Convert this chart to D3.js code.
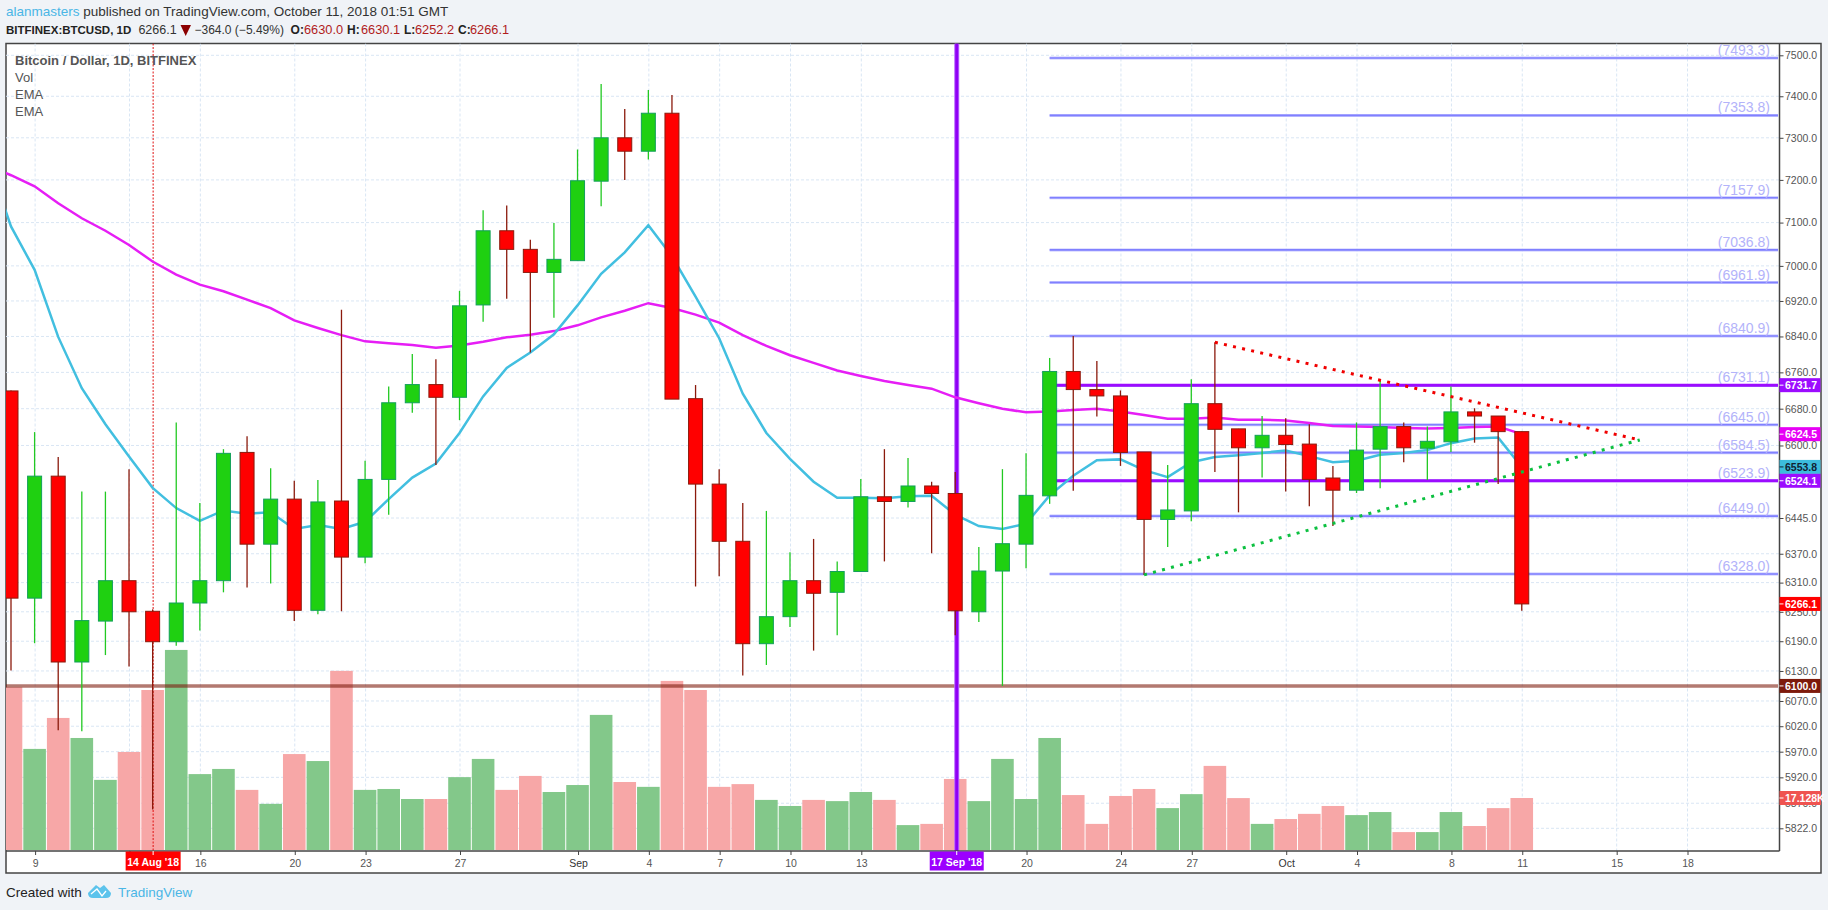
<!doctype html>
<html>
<head>
<meta charset="utf-8">
<title>BTCUSD</title>
<script src="https://cdn.jsdelivr.net/npm/d3@7"></script>
<style>
    html, body { margin: 0; background: #f0f3f7; }
    svg { display: block; }
    text { font-family: "Liberation Sans", Arial, sans-serif; }
    .grid line { stroke: #d9e6f4; stroke-width: 1; stroke-dasharray: 3,2; }
    .axis text { font-size: 10.5px; fill: #555; font-family: "Liberation Sans", Arial, sans-serif; }
    .axis line { stroke: #444; }
    .axis path { display: none; }
</style>
</head>
<body>
<svg id="chart" width="1828" height="910"></svg>
<script>
// daily candles, 8 Aug .. 11 Oct 2018
var firstDay = new Date(Date.UTC(2018, 7, 8));
var days = d3.utcDays(firstDay, new Date(Date.UTC(2018, 9, 12)));

var opens = [6719,6278,6534,6148,6231,6314,6251,6189,6268,6314,6585,6390,6485,6253,6481,6363,6527,6693,6733,6705,
    6911,7081,7038,6985,7012,7197,7300,7268,7359,6702,6517,6396,6185,6240,6314,6290,6333,6490,6480,6513,
    6497,6250,6334,6390,6492,6762,6722,6708,6586,6442,6460,6691,6636,6595,6622,6603,6530,6504,6592,6641,
    6594,6608,6673,6664,6630.0];
var highs = [6720,6629,6575,6501,6501,6549,6255,6650,6477,6592,6620,6551,6524,6526,6900,6567,6729,6801,6789,6943,
    7129,7140,7060,7099,7272,7430,7369,7415,7403,6732,6549,6477,6460,6373,6401,6354,6528,6592,6573,6522,
    6543,6384,6549,6583,6792,6841,6785,6720,6586,6558,6745,6827,6636,6664,6659,6646,6556,6650,6741,6650,
    6641,6729,6681,6664,6630.1];
var lows = [6131,6186,6012,6010,6162,6139,5858,6181,6212,6290,6300,6308,6231,6245,6251,6350,6452,6671,6558,6655,
    6873,6925,6804,6882,7012,7138,7200,7248,6701,6302,6323,6121,6142,6219,6171,6202,6332,6354,6467,6371,
    6202,6229,6100,6340,6475,6503,6663,6556,6326,6384,6438,6543,6457,6531,6501,6470,6428,6498,6508,6564,
    6526,6586,6606,6517,6252.2];
var closes = [6278,6534,6148,6232,6314,6250,6189,6268,6314,6583,6390,6485,6253,6479,6363,6527,6693,6733,6705,6909,
    7081,7038,6985,7015,7198,7300,7268,7359,6701,6517,6396,6185,6240,6314,6288,6333,6490,6480,6513,6497,
    6252,6334,6391,6493,6762,6722,6708,6585,6442,6462,6691,6635,6595,6622,6602,6527,6504,6590,6641,6595,
    6609,6673,6664,6630,6266.1];
// volume in thousands
var volumes = [53.6,33.3,43.5,36.9,23.1,32.3,52.7,65.9,25.0,26.7,19.8,15.2,31.6,29.3,59.0,19.8,20.1,16.8,16.8,24.0,
    30.0,19.8,24.4,19.1,21.4,44.5,22.4,20.8,55.7,52.7,20.8,21.7,16.5,14.5,16.5,16.1,19.1,16.5,8.2,8.6,
    23.4,16.1,30.0,16.8,36.9,18.1,8.6,17.8,20.1,13.8,18.4,27.7,17.1,8.6,10.2,11.9,14.5,11.5,12.5,5.9,
    5.9,12.5,7.9,13.8,17.128];
// the two EMA series start one day earlier, off the left edge
var emaFast = [7254,7091,6991,6839,6725,6646,6576,6509,6466,6439,6461,6454,6457,6422,6430,6422,6437,6485,6531,6561,6627,
    6707,6770,6804,6845,6910,6982,7031,7094,7022,6930,6836,6713,6627,6571,6522,6488,6488,6487,6491,6492,
    6452,6428,6422,6433,6493,6535,6568,6570,6547,6532,6564,6575,6579,6584,6589,6577,6564,6567,6580,6584,
    6590,6605,6615,6617,6553.8];
var emaSlow = [7234,7211,7185,7145,7110,7081,7048,7010,6980,6957,6942,6923,6904,6876,6859,6843,6829,6825,6821,6815,6820,
    6828,6838,6844,6852,6865,6883,6898,6915,6904,6889,6871,6843,6819,6798,6781,6764,6752,6741,6732,6724,
    6705,6692,6680,6672,6674,6677,6680,6674,6666,6658,6658,6661,6656,6656,6654,6649,6642,6641,6640,6638,
    6637,6638,6640,6641,6624.5];

var fibLevels = [7493.3,7353.8,7157.9,7036.8,6961.9,6840.9,6731.1,6645.0,6584.5,6523.9,6449.0,6328.0];
var purpleLevels = [6731.7,6524.1];
var supportLevel = 6100.0;

var priceTicks = [7500,7400,7300,7200,7100,7000,6920,6840,6760,6680,6600,6445,6370,6310,6250,6190,6130,6070,6020,5970,5920,5870,5822];
var dateTicks = ["2018-08-09","2018-08-13","2018-08-16","2018-08-20","2018-08-23","2018-08-27","2018-09-01","2018-09-04",
    "2018-09-07","2018-09-10","2018-09-13","2018-09-17","2018-09-20","2018-09-24","2018-09-27","2018-10-01","2018-10-04",
    "2018-10-08","2018-10-11","2018-10-15","2018-10-18"];
var dateTickLabels = ["9","","16","20","23","27","Sep","4","7","10","13","","20","24","27","Oct","4","8","11","15","18"];

var trendDown = [["2018-09-28",6827],["2018-10-16",6612]];
var trendUp = [["2018-09-25",6326],["2018-10-16",6612]];

var priceLabels = [
    {v: 6731.7, t: "6731.7", bg: "#9c0cff", fg: "#fff"},
    {v: 6624.5, t: "6624.5", bg: "#e600f5", fg: "#fff"},
    {v: 6553.8, t: "6553.8", bg: "#3cbcdc", fg: "#123"},
    {v: 6524.1, t: "6524.1", bg: "#9c0cff", fg: "#fff"},
    {v: 6266.1, t: "6266.1", bg: "#ff0000", fg: "#fff"},
    {v: 6100.0, t: "6100.0", bg: "#7d1a0b", fg: "#fff"}
];

var left = 6, top_ = 43.5, right = 1779.5, bottom = 851, frameRight = 1821, frameBottom = 873;

var x = d3.scaleUtc()
    .domain([firstDay, new Date(Date.UTC(2018, 9, 18))])
    .range([11, 1687]);
var y = d3.scaleLog().domain([5822, 7500]).range([828.3, 55.3]);
var yVol = d3.scaleLinear().domain([0, 17.128]).range([850, 798]);

var candles = days.map(function(d, i) {
    return {date: d, o: opens[i], h: highs[i], l: lows[i], c: closes[i], v: volumes[i], up: closes[i] >= opens[i]};
});
var parseDay = d3.utcParse("%Y-%m-%d");

var svg = d3.select("#chart");
svg.append("defs").append("clipPath").attr("id", "plot")
    .append("rect").attr("x", left).attr("y", top_).attr("width", right - left).attr("height", bottom - top_);

// frame
svg.append("rect").attr("x", left).attr("y", top_).attr("width", frameRight - left).attr("height", frameBottom - top_)
    .attr("fill", "#fff").attr("stroke", "#444").attr("stroke-width", 1.5);

var plot = svg.append("g").attr("clip-path", "url(#plot)");

// grid
var grid = plot.append("g").attr("class", "grid");
grid.selectAll(".h").data(priceTicks).join("line").attr("class", "h")
    .attr("x1", left).attr("x2", right).attr("y1", y).attr("y2", y);
grid.selectAll(".v").data(dateTicks).join("line").attr("class", "v")
    .attr("x1", function(d) { return x(parseDay(d)) + 0.5; }).attr("x2", function(d) { return x(parseDay(d)) + 0.5; })
    .attr("y1", top_).attr("y2", bottom);

// volume
plot.append("g").selectAll("rect").data(candles).join("rect")
    .attr("x", function(d) { return x(d.date) - 11.3; })
    .attr("width", 22.6)
    .attr("y", function(d) { return yVol(d.v); })
    .attr("height", function(d) { return yVol(0) - yVol(d.v); })
    .attr("fill", function(d) { return d.up ? "#83c88a" : "#f7a7a7"; });

// support line
plot.append("line").attr("x1", left).attr("x2", 1778).attr("y1", y(supportLevel)).attr("y2", y(supportLevel))
    .attr("stroke", "#7d1a0b").attr("stroke-width", 3.4).attr("opacity", 0.58);

// vertical markers
var sepX = x(new Date(Date.UTC(2018, 8, 17))) + 1.5;
var augX = x(new Date(Date.UTC(2018, 7, 14))) + 0.5;
plot.append("line").attr("x1", sepX).attr("x2", sepX).attr("y1", top_).attr("y2", bottom)
    .attr("stroke", "#b866ff").attr("stroke-width", 5);
plot.append("line").attr("x1", sepX).attr("x2", sepX).attr("y1", top_).attr("y2", bottom)
    .attr("stroke", "#8f00f5").attr("stroke-width", 3);
plot.append("line").attr("x1", augX).attr("x2", augX).attr("y1", top_).attr("y2", bottom)
    .attr("stroke", "#e01010").attr("stroke-width", 1).attr("stroke-dasharray", "2,1.5");

// fib levels
var fibX1 = x(new Date(Date.UTC(2018, 8, 21))), fibX2 = 1778;
var fib = plot.append("g");
fib.selectAll(".o").data(fibLevels).join("line").attr("class", "o")
    .attr("x1", fibX1).attr("x2", fibX2).attr("y1", y).attr("y2", y)
    .attr("stroke", "#c4c4ff").attr("stroke-width", 3);
fib.selectAll(".i").data(fibLevels).join("line").attr("class", "i")
    .attr("x1", fibX1).attr("x2", fibX2).attr("y1", y).attr("y2", y)
    .attr("stroke", "#8080ff").attr("stroke-width", 1.6);
fib.selectAll("text").data(fibLevels).join("text")
    .attr("x", 1770).attr("y", function(d) { return y(d) - 3; })
    .attr("text-anchor", "end").attr("font-size", 14).attr("fill", "#b3b3fa")
    .text(function(d) { return "(" + d.toFixed(1) + ")"; });

plot.append("g").selectAll("line").data(purpleLevels).join("line")
    .attr("x1", fibX1).attr("x2", fibX2).attr("y1", y).attr("y2", y)
    .attr("stroke", "#9c0cff").attr("stroke-width", 3);

// EMA
var emaLine = d3.line()
    .x(function(d, i) { return x(d3.utcDay.offset(firstDay, i - 1)); })
    .y(function(d) { return y(d); });
plot.append("path").datum(emaSlow).attr("d", emaLine).attr("fill", "none").attr("stroke", "#e61ef5").attr("stroke-width", 2.5);
plot.append("path").datum(emaFast).attr("d", emaLine).attr("fill", "none").attr("stroke", "#42bfe0").attr("stroke-width", 2.5);

// candles
var candle = plot.append("g").selectAll("g").data(candles).join("g");
candle.append("line")
    .attr("x1", function(d) { return x(d.date); }).attr("x2", function(d) { return x(d.date); })
    .attr("y1", function(d) { return y(d.h); }).attr("y2", function(d) { return y(d.l); })
    .attr("stroke", function(d) { return d.up ? "#22c922" : "#8b1a0c"; }).attr("stroke-width", 1.3);
candle.append("rect")
    .attr("x", function(d) { return x(d.date) - 7; })
    .attr("width", 14)
    .attr("y", function(d) { return y(Math.max(d.o, d.c)); })
    .attr("height", function(d) { return Math.abs(y(d.o) - y(d.c)); })
    .attr("fill", function(d) { return d.up ? "#1fd011" : "#ff0000"; })
    .attr("stroke", function(d) { return d.up ? "#12a05a" : "#8b1a0c"; }).attr("stroke-width", 1);

// trend lines
var trendPath = d3.line().x(function(d) { return x(parseDay(d[0])); }).y(function(d) { return y(d[1]); });
plot.append("path").datum(trendDown).attr("d", trendPath).attr("fill", "none")
    .attr("stroke", "#f00000").attr("stroke-width", 3).attr("stroke-dasharray", "3,6.3");
plot.append("path").datum(trendUp).attr("d", trendPath).attr("fill", "none")
    .attr("stroke", "#0cc040").attr("stroke-width", 3).attr("stroke-dasharray", "3,6.3");

// axes
var axisY = d3.axisRight(y).tickValues(priceTicks).tickSize(4).tickPadding(1.5).tickFormat(d3.format(".1f"));
svg.append("g").attr("class", "axis").attr("transform", "translate(" + right + ",0)").call(axisY);
var axisX = d3.axisBottom(x).tickValues(dateTicks.map(parseDay)).tickSize(4).tickPadding(5)
    .tickFormat(function(d, i) { return dateTickLabels[i]; });
var gx = svg.append("g").attr("class", "axis").attr("transform", "translate(0.5," + bottom + ")").call(axisX);
gx.selectAll("text").filter(function(d, i) { return dateTickLabels[i] === "Sep" || dateTickLabels[i] === "Oct"; })
    .style("fill", "#333");
svg.append("line").attr("x1", left).attr("x2", right).attr("y1", bottom).attr("y2", bottom).attr("stroke", "#444").attr("stroke-width", 1.5);
svg.append("line").attr("x1", right).attr("x2", right).attr("y1", top_).attr("y2", bottom).attr("stroke", "#444").attr("stroke-width", 1.5);

// price labels
function priceTag(py, txt, bg, fg, w) {
    var g = svg.append("g");
    g.append("rect").attr("x", right).attr("y", py - 7).attr("width", w).attr("height", 14).attr("fill", bg);
    g.append("line").attr("x1", right).attr("x2", right + 4).attr("y1", py).attr("y2", py).attr("stroke", fg);
    g.append("text").attr("x", right + 5.5).attr("y", py + 4).attr("font-size", 10.5).attr("font-weight", "bold")
        .attr("fill", fg).text(txt);
}
priceLabels.forEach(function(d) { priceTag(y(d.v), d.t, d.bg, d.fg, 41); });
priceTag(yVol(17.128), "17.128K", "#ef5350", "#fff", 41.5);

// date labels
function dateTag(cx, txt, bg, w) {
    var g = svg.append("g");
    g.append("rect").attr("x", cx - w / 2).attr("y", bottom + 0.5).attr("width", w).attr("height", 19).attr("fill", bg);
    g.append("line").attr("x1", cx).attr("x2", cx).attr("y1", bottom).attr("y2", bottom + 4).attr("stroke", "#fff");
    g.append("text").attr("x", cx).attr("y", bottom + 15).attr("text-anchor", "middle")
        .attr("font-size", 10.5).attr("font-weight", "bold").attr("fill", "#fff").text(txt);
}
dateTag(augX, "14 Aug '18", "#ff0000", 55);
dateTag(sepX, "17 Sep '18", "#9c00ff", 54);

// legend
var legend = ["Bitcoin / Dollar, 1D, BITFINEX", "Vol", "EMA", "EMA"];
svg.append("g").selectAll("text").data(legend).join("text")
    .attr("x", 15).attr("y", function(d, i) { return 65 + i * 17; })
    .attr("font-size", 13).attr("font-weight", function(d, i) { return i === 0 ? "bold" : "normal"; })
    .attr("fill", "#555").text(function(d) { return d; });

// header
var head1 = svg.append("text").attr("x", 6).attr("y", 16).attr("font-size", 13.5).attr("fill", "#333");
head1.append("tspan").attr("fill", "#4ab6e6").text("alanmasters");
head1.append("tspan").text(" published on TradingView.com, October 11, 2018 01:51 GMT");

var headParts = [
    {x: 6, t: "BITFINEX:BTCUSD, 1D", b: true, c: "#222", s: 11.5},
    {x: 138.4, t: "6266.1", b: false, c: "#333", s: 12.5},
    {x: 194.5, t: "\u2212364.0 (\u22125.49%)", b: false, c: "#333", s: 12},
    {x: 290.6, t: "O:", b: true, c: "#222", s: 12},
    {x: 304, t: "6630.0", b: false, c: "#b01c1c", s: 12.8},
    {x: 347, t: "H:", b: true, c: "#222", s: 12},
    {x: 361, t: "6630.1", b: false, c: "#b01c1c", s: 12.8},
    {x: 404, t: "L:", b: true, c: "#222", s: 12},
    {x: 415, t: "6252.2", b: false, c: "#b01c1c", s: 12.8},
    {x: 458, t: "C:", b: true, c: "#222", s: 12},
    {x: 470, t: "6266.1", b: false, c: "#b01c1c", s: 12.8}
];
svg.append("g").selectAll("text").data(headParts).join("text")
    .attr("x", function(d) { return d.x; }).attr("y", 34).attr("font-size", function(d) { return d.s; })
    .attr("font-weight", function(d) { return d.b ? "bold" : "normal"; })
    .attr("fill", function(d) { return d.c; }).text(function(d) { return d.t; });
svg.append("path").attr("d", "M180.5 25 L191 25 L185.7 36 Z").attr("fill", "#8b0000");

// footer
svg.append("text").attr("x", 6).attr("y", 897).attr("font-size", 13.5).attr("fill", "#222").text("Created with");
svg.append("path").attr("d", "M88 893 L96 885 L100 888 L104 885 L111 893 Q111 898 106 898 L93 898 Q88 898 88 893 Z").attr("fill", "#5cc3ec");
svg.append("path").attr("d", "M91 894 L97 889 L102 896 L106 891").attr("fill", "none").attr("stroke", "#fff").attr("stroke-width", 1.3);
svg.append("text").attr("x", 118).attr("y", 897).attr("font-size", 13.5).attr("fill", "#4ab6e6").text("TradingView");
</script>
</body>
</html>
